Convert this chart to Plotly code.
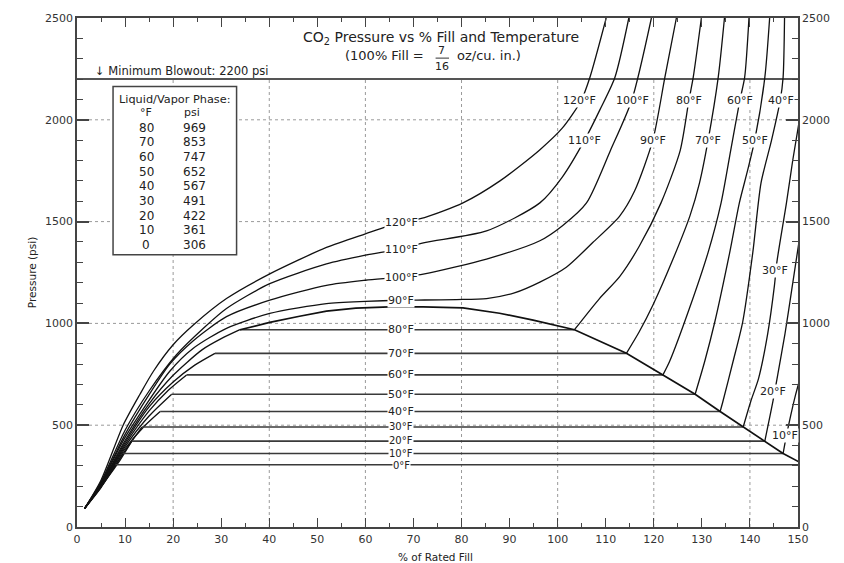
import plotly.graph_objects as go

# ---------------- data ----------------
# Liquid/vapor saturation table
SAT_TEMPS = [80, 70, 60, 50, 40, 30, 20, 10, 0]
SAT_PSI = [969, 853, 747, 652, 567, 491, 422, 361, 306]
VAP_FILL = [33.9, 28.7, 22.8, 19.7, 17.3, 13.5, 11.4, 9.6, 8.0]      # saturated vapour (% fill)
LIQ_FILL = [103.5, 114.3, 121.9, 128.6, 133.8, 138.6, 143.1, 146.9, 151.3]  # saturated liquid (% fill)

# gas-phase branches (ending at the saturated vapour point)
GAS80_FILL = [1.6, 5, 10, 15, 20, 26, 30];       GAS80_PSI = [92, 210, 425, 605, 745, 870, 925]
GAS70_FILL = [1.6, 5, 10, 15, 20, 24.5];         GAS70_PSI = [92, 208, 415, 590, 712, 795]
GAS60_FILL = [1.6, 5, 10, 15, 19];               GAS60_PSI = [92, 206, 405, 570, 672]
GAS50_FILL = [1.6, 5, 10, 15];                   GAS50_PSI = [92, 204, 395, 545]
GAS40_FILL = [1.6, 5, 10, 14];                   GAS40_PSI = [92, 202, 385, 495]
GAS30_FILL = [1.6, 5, 10];                       GAS30_PSI = [92, 200, 375]
GAS20_FILL = [1.6, 5, 8.5];                      GAS20_PSI = [92, 198, 312]
GAS10_FILL = [1.6, 5];                           GAS10_PSI = [92, 196]
GAS0_FILL = [1.6, 5];                            GAS0_PSI = [92, 194]

# compressed-liquid branches (starting at the saturated liquid point)
LIQ80_FILL = [108.7, 112.9, 117, 121.5, 125.5, 127.3, 128.2, 129.9]
LIQ80_PSI = [1122, 1230, 1380, 1592, 1850, 2095, 2208, 2500]
LIQ70_FILL = [117, 119.8, 124, 127.5, 129.5, 131.3, 133.4, 134.7]
LIQ70_PSI = [960, 1089, 1316, 1527, 1689, 1900, 2208, 2500]
LIQ60_FILL = [123.3, 127.4, 131.3, 134, 136, 137.9, 138.9, 139.8]
LIQ60_PSI = [814, 1073, 1349, 1592, 1850, 2095, 2208, 2500]
LIQ50_FILL = [130.6, 132.7, 135.8, 137.8, 139.5, 141.0, 143.1, 144.1]
LIQ50_PSI = [814, 1008, 1349, 1592, 1750, 1900, 2208, 2500]
LIQ40_FILL = [134.4, 136.5, 138.5, 140.6, 142.3, 144.5, 146.3, 146.9, 147.2]
LIQ40_PSI = [619, 814, 1008, 1349, 1689, 1900, 2095, 2208, 2500]
LIQ30_FILL = [140.2, 141.8, 143.7, 145.1, 145.6, 147.6, 148.9, 150.3]
LIQ30_PSI = [619, 730, 950, 1187, 1300, 1592, 1800, 2000]
LIQ20_FILL = [144.8, 145.8, 147.3, 148.6, 150.2]
LIQ20_PSI = [619, 750, 950, 1150, 1400]
LIQ10_FILL = [147.6, 148.5, 149.5, 150.3]
LIQ10_PSI = [450, 550, 650, 720]

# supercritical isotherms
T90_FILL = [1.6, 5, 10, 19.3, 24.2, 31.1, 40.1, 51.9, 60, 67.5, 72.3, 79, 85.2, 91, 96.3, 101.8, 107.3, 112.9, 116, 119.8, 122.3, 124.7]
T90_PSI = [92, 213, 440, 765, 878, 976, 1049, 1097, 1108, 1114, 1115, 1117, 1122, 1150, 1203, 1276, 1397, 1527, 1650, 1900, 2208, 2500]
T100_FILL = [1.6, 5, 10, 15, 19.3, 24.2, 31.1, 40.1, 51.9, 60, 67, 72.3, 85.2, 96.3, 101, 106, 111, 115.4, 119.5]
T100_PSI = [92, 217, 455, 650, 800, 915, 1033, 1114, 1187, 1212, 1227, 1243, 1316, 1406, 1480, 1592, 1851, 2095, 2500]
T110_FILL = [1.6, 5, 10, 15, 20.7, 26.3, 31.1, 40.1, 51.9, 60, 67, 72.3, 85.2, 96.3, 101, 105.6, 108.8, 111.9, 114.8]
T110_PSI = [92, 222, 475, 668, 846, 976, 1073, 1195, 1292, 1335, 1365, 1397, 1454, 1592, 1720, 1900, 2050, 2208, 2500]
T120_FILL = [1.6, 5, 9.6, 13.1, 15.9, 20, 24.2, 31.1, 40.1, 51.9, 60, 67, 72.3, 80.3, 88, 96.2, 101, 104.9, 106.7, 110.1]
T120_PSI = [92, 230, 500, 652, 765, 895, 992, 1122, 1243, 1373, 1440, 1495, 1520, 1592, 1700, 1851, 1960, 2095, 2208, 2500]

# top of the two-phase dome (between the 80 F vapour and liquid points)
DOME_TOP_FILL = [40.1, 46.3, 51.9, 58, 65, 72, 80.3, 87.9, 94.9]
DOME_TOP_PSI = [1005, 1035, 1060, 1075, 1081, 1081, 1076, 1050, 1016]

BLOWOUT_PSI = 2200

# labels
MID_LABEL_TEMPS = [120, 110, 100, 90, 80, 70, 60, 50, 40, 30, 20, 10, 0]
MID_LABEL_PSI = [1495, 1365, 1227, 1114, 969, 853, 747, 652, 567, 493, 424, 363, 302]
MID_LABEL_FILL = 67.5
TOP_LABEL_TEMPS = [120, 100, 80, 60, 40, 110, 90, 70, 50, 30, 20, 10]
TOP_LABEL_FILL = [104.6, 115.5, 127.3, 137.9, 146.4, 105.5, 119.8, 131.3, 141.0, 145.2, 144.8, 147.2]
TOP_LABEL_PSI = [2095, 2095, 2095, 2095, 2095, 1900, 1900, 1900, 1900, 1260, 668, 449]

X_TICKS = list(range(0, 151, 10))
Y_TICKS = list(range(0, 2501, 500))
GRID_X = [20, 40, 60, 80, 100, 120, 140]
GRID_Y = [500, 1000, 1500, 2000]

FONT = "DejaVu Sans"
INK = "#111111"
AX = "#444444"

GAS = {80: (GAS80_FILL, GAS80_PSI), 70: (GAS70_FILL, GAS70_PSI), 60: (GAS60_FILL, GAS60_PSI),
       50: (GAS50_FILL, GAS50_PSI), 40: (GAS40_FILL, GAS40_PSI), 30: (GAS30_FILL, GAS30_PSI),
       20: (GAS20_FILL, GAS20_PSI), 10: (GAS10_FILL, GAS10_PSI), 0: (GAS0_FILL, GAS0_PSI)}
LIQ = {80: (LIQ80_FILL, LIQ80_PSI), 70: (LIQ70_FILL, LIQ70_PSI), 60: (LIQ60_FILL, LIQ60_PSI),
       50: (LIQ50_FILL, LIQ50_PSI), 40: (LIQ40_FILL, LIQ40_PSI), 30: (LIQ30_FILL, LIQ30_PSI),
       20: (LIQ20_FILL, LIQ20_PSI), 10: (LIQ10_FILL, LIQ10_PSI), 0: ([], [])}
SUPER = [(T90_FILL, T90_PSI), (T100_FILL, T100_PSI), (T110_FILL, T110_PSI), (T120_FILL, T120_PSI)]

fig = go.Figure()


def curve(x, y, width=1.3, color=INK, shape="spline"):
    fig.add_trace(go.Scatter(x=x, y=y, mode="lines",
                             line=dict(color=color, width=width, shape=shape, smoothing=0.7),
                             hoverinfo="skip", showlegend=False, cliponaxis=True))


for i, t in enumerate(SAT_TEMPS):
    gx, gy = GAS[t]
    curve(gx + [VAP_FILL[i]], gy + [SAT_PSI[i]])
    curve([VAP_FILL[i], LIQ_FILL[i]], [SAT_PSI[i], SAT_PSI[i]], width=1.6, color="#3a3a3a", shape="linear")
    lx, ly = LIQ[t]
    if lx:
        curve([LIQ_FILL[i]] + lx, [SAT_PSI[i]] + ly)

for sx, sy in SUPER:
    curve(sx, sy)

# dome
curve([VAP_FILL[0]] + DOME_TOP_FILL + LIQ_FILL, [SAT_PSI[0]] + DOME_TOP_PSI + SAT_PSI, width=1.7, shape="linear")

# dummy trace to show right-hand axis
fig.add_trace(go.Scatter(x=[0], y=[0], yaxis="y2", mode="markers", marker=dict(opacity=0),
                         hoverinfo="skip", showlegend=False))

shapes = []
for g in GRID_X:
    shapes.append(dict(type="line", xref="x", yref="y", x0=g, x1=g, y0=0, y1=BLOWOUT_PSI,
                       line=dict(color="#9a9a9a", width=1, dash="dot"), layer="between"))
for g in GRID_Y:
    shapes.append(dict(type="line", xref="x", yref="y", x0=0, x1=150, y0=g, y1=g,
                       line=dict(color="#9a9a9a", width=1, dash="dot"), layer="between"))
# blowout line
shapes.append(dict(type="line", xref="x", yref="y", x0=0, x1=150, y0=BLOWOUT_PSI, y1=BLOWOUT_PSI,
                   line=dict(color="#555555", width=2), layer="between"))
# table box
shapes.append(dict(type="rect", xref="x", yref="y", x0=7.5, x1=33.2, y0=1337, y1=2163,
                   line=dict(color="#444444", width=1.5), fillcolor="white", layer="between"))
# fraction bar
shapes.append(dict(type="line", xref="x", yref="y", x0=74.6, x1=77.4, y0=2303, y1=2303,
                   line=dict(color="#333333", width=1), layer="above"))

ann = []


def txt(x, y, s, size=11, xanchor="center", bg=None, color="#222222", **kw):
    d = dict(x=x, y=y, xref="x", yref="y", text=s, showarrow=False, xanchor=xanchor, yanchor="middle",
             font=dict(family=FONT, size=size, color=color))
    if bg:
        d.update(bgcolor=bg, borderpad=0)
    d.update(kw)
    ann.append(d)


for t, p in zip(MID_LABEL_TEMPS, MID_LABEL_PSI):
    txt(MID_LABEL_FILL, p, f"{t}°F", size=11 if t >= 40 else 10, bg="white")
for t, fx, p in zip(TOP_LABEL_TEMPS, TOP_LABEL_FILL, TOP_LABEL_PSI):
    txt(fx, p, f"{t}°F", size=11, bg="white")

# titles
txt(75.7, 2403, "CO<sub>2</sub> Pressure vs % Fill and Temperature", size=14)
txt(72.6, 2318, "(100% Fill =", size=13, xanchor="right")
txt(75.9, 2342, "7", size=11)
txt(75.9, 2264, "16", size=11)
txt(78.6, 2316, "oz/cu. in.)", size=13, xanchor="left")
txt(3.4, 2242, "↓ Minimum Blowout: 2200 psi", size=11.5, xanchor="left")

# table
txt(20.3, 2098, "Liquid/Vapor Phase:", size=11.3)
txt(14.4, 2037, "°F", size=11)
txt(24.0, 2037, "psi", size=11)
for k, (t, p) in enumerate(zip(SAT_TEMPS, SAT_PSI)):
    yy = 1961 - k * 72
    txt(14.4, yy, str(t), size=12)
    txt(24.5, yy, str(p), size=12)

# axis titles
ann.append(dict(x=-0.074, y=0.5, xref="paper", yref="paper", text="Pressure (psi)", showarrow=False,
                textangle=-90, font=dict(family=FONT, size=10.5, color="#222222")))
ann.append(dict(x=0.497, y=-0.058, xref="paper", yref="paper", text="% of Rated Fill", showarrow=False,
                yanchor="middle", font=dict(family=FONT, size=10.5, color="#222222")))

axis_common = dict(ticks="inside", tickcolor=AX, showline=True, linecolor=AX, linewidth=1.5,
                   mirror="ticks", showgrid=False, zeroline=False,
                   tickfont=dict(family=FONT, size=11, color="#333333"))

fig.update_layout(
    width=844, height=563,
    margin=dict(l=77, r=46, t=13, b=36),
    paper_bgcolor="white", plot_bgcolor="white",
    showlegend=False,
    xaxis=dict(range=[0, 150], tickmode="array", tickvals=X_TICKS, ticklen=9, tickwidth=1.3,
               ticklabelstandoff=1,
               minor=dict(dtick=5, ticklen=4, ticks="inside", tickcolor=AX, tickwidth=1, showgrid=False),
               **axis_common),
    yaxis=dict(range=[0, 2500], tickmode="array", tickvals=Y_TICKS, ticklen=12, tickwidth=1.5,
               minor=dict(dtick=100, ticklen=6, ticks="inside", tickcolor=AX, tickwidth=1, showgrid=False),
               **axis_common),
    yaxis2=dict(range=[0, 2500], overlaying="y", side="right", tickmode="array", tickvals=Y_TICKS,
                ticks="", showline=False, showgrid=False, zeroline=False, ticklabelstandoff=3,
                tickfont=dict(family=FONT, size=11, color="#333333")),
    shapes=shapes,
    annotations=ann,
)

fig.write_html("out.html", config={"displayModeBar": False},
               post_script="document.body.style.margin='0';")
